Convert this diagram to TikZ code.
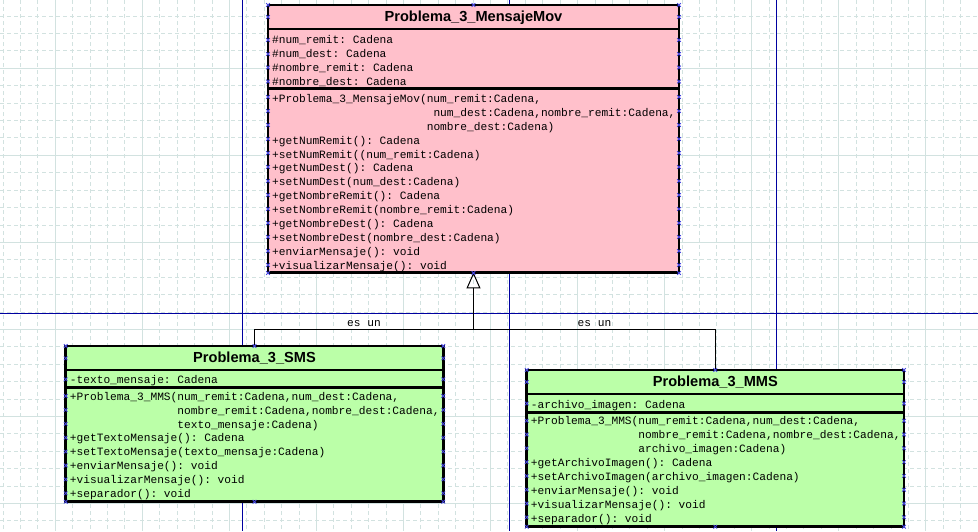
\documentclass[tikz,border=0pt]{standalone}
\usepackage{fontspec}
\setmainfont{Liberation Sans}
\setmonofont{Liberation Mono}
\usepackage{tikz}
\usetikzlibrary{arrows.meta,positioning}
\definecolor{msgpink}{RGB}{255,192,203}
\definecolor{msggreen}{RGB}{187,255,168}
\definecolor{gridgray}{RGB}{210,226,224}
\definecolor{pageblue}{RGB}{0,0,160}
\definecolor{handleblue}{RGB}{70,70,225}
\newcommand{\hmark}[2]{\draw[handle] (#1,#2) +(-1.8,-1.8) -- +(1.8,1.8) +(-1.8,1.8) -- +(1.8,-1.8);}
\newcommand{\ind}[1]{\hphantom{#1}}

\begin{document}
\begin{tikzpicture}[x=1pt, y=-1pt,
  classtitle/.style={draw, line width=2.6pt, inner sep=0pt, outer sep=0pt, minimum height=24pt,
    text height=10.6pt, text depth=1pt, font=\fontsize{14.6}{16}\selectfont\bfseries},
  classpart/.style={draw, line width=2.6pt, inner sep=0pt, outer sep=0pt},
  parttext/.style={inner sep=0pt, align=left,
    font=\fontsize{11.2}{13.9}\selectfont\ttfamily},
  isa/.style={-{Triangle[open, length=16pt, width=14pt]}, line width=1pt},
  esun/.style={anchor=base, yshift=3pt, inner sep=0pt, font=\fontsize{11.2}{13}\selectfont\ttfamily},
  minorgrid/.style={gridgray, line width=1pt, dash pattern=on 4pt off 3pt},
  majorgrid/.style={gridgray, line width=1pt},
  pageline/.style={pageblue, line width=1.4pt},
  handle/.style={handleblue, line width=0.8pt}]

\useasboundingbox (0,0) rectangle (978,531);
\fill[white] (0,0) rectangle (978,531);

% 1. Background grid
\foreach \i in {0,...,55} \draw[minorgrid] ({3.1+17.41*\i},0) -- ++(0,531);
\foreach \i in {0,...,29} \draw[minorgrid] (0,{16.1+17.41*\i}) -- ++(978,0);
\foreach \i in {0,...,10} \draw[majorgrid] ({55.3+87.05*\i},0) -- ++(0,531);
\foreach \i in {0,...,5} \draw[majorgrid] (0,{68.3+87.05*\i}) -- ++(978,0);

% 2. Page break lines
\draw[pageline] (242.3,0) -- (242.3,531);
\draw[pageline] (509.3,0) -- (509.3,531);
\draw[pageline] (776.7,0) -- (776.7,531);
\draw[pageline] (0,313.3) -- (978,313.3);

% 3. Superclass (text anchored on the baseline of its last line)
\node[classtitle, fill=msgpink, anchor=north west, minimum width=411pt] (mov-t) at (268,5) {Problema\_3\_MensajeMov};
\node[classpart, fill=msgpink, below=0pt of mov-t.south west, anchor=north west, minimum width=411pt, minimum height=59.7pt] (mov-a) {};
\node[classpart, fill=msgpink, below=0pt of mov-a.south west, anchor=north west, minimum width=411pt, minimum height=183.7pt] (mov-m) {};
\node[parttext, below right=56.4pt and 4pt of mov-a.north west, anchor=base west] (mov-atxt) {%
\#num\_remit: Cadena\\
\#num\_dest: Cadena\\
\#nombre\_remit: Cadena\\
\#nombre\_dest: Cadena};
\node[parttext, below right=180.5pt and 4pt of mov-m.north west, anchor=base west] (mov-mtxt) {%
+Problema\_3\_MensajeMov(num\_remit:Cadena,\\
\ind{xxxxxxxxxxxxxxxxxxxxxxxx}num\_dest:Cadena,nombre\_remit:Cadena,\\
\ind{xxxxxxxxxxxxxxxxxxxxxxx}nombre\_dest:Cadena)\\
+getNumRemit(): Cadena\\
+setNumRemit((num\_remit:Cadena)\\
+getNumDest(): Cadena\\
+setNumDest(num\_dest:Cadena)\\
+getNombreRemit(): Cadena\\
+setNombreRemit(nombre\_remit:Cadena)\\
+getNombreDest(): Cadena\\
+setNombreDest(nombre\_dest:Cadena)\\
+enviarMensaje(): void\\
+visualizarMensaje(): void};

% 4. Subclass SMS
\node[classtitle, fill=msggreen, anchor=north west, minimum width=377.6pt] (sms-t) at (65.7,346) {Problema\_3\_SMS};
\node[classpart, fill=msggreen, below=0pt of sms-t.south west, anchor=north west, minimum width=377.6pt, minimum height=17.3pt] (sms-a) {};
\node[classpart, fill=msggreen, below=0pt of sms-a.south west, anchor=north west, minimum width=377.6pt, minimum height=114.4pt] (sms-m) {};
\node[parttext, below right=13.3pt and 4pt of sms-a.north west, anchor=base west] (sms-atxt) {-texto\_mensaje: Cadena};
\node[parttext, below right=110.2pt and 4pt of sms-m.north west, anchor=base west] (sms-mtxt) {%
+Problema\_3\_MMS(num\_remit:Cadena,num\_dest:Cadena,\\
\ind{xxxxxxxxxxxxxxxx}nombre\_remit:Cadena,nombre\_dest:Cadena,\\
\ind{xxxxxxxxxxxxxxxx}texto\_mensaje:Cadena)\\
+getTextoMensaje(): Cadena\\
+setTextoMensaje(texto\_mensaje:Cadena)\\
+enviarMensaje(): void\\
+visualizarMensaje(): void\\
+separador(): void};

% 5. Subclass MMS
\node[classtitle, fill=msggreen, anchor=north west, minimum width=377.3pt] (mms-t) at (526.7,370) {Problema\_3\_MMS};
\node[classpart, fill=msggreen, below=0pt of mms-t.south west, anchor=north west, minimum width=377.3pt, minimum height=18.5pt] (mms-a) {};
\node[classpart, fill=msggreen, below=0pt of mms-a.south west, anchor=north west, minimum width=377.3pt, minimum height=114.2pt] (mms-m) {};
\node[parttext, below right=14.3pt and 4pt of mms-a.north west, anchor=base west] (mms-atxt) {-archivo\_imagen: Cadena};
\node[parttext, below right=109.7pt and 4pt of mms-m.north west, anchor=base west] (mms-mtxt) {%
+Problema\_3\_MMS(num\_remit:Cadena,num\_dest:Cadena,\\
\ind{xxxxxxxxxxxxxxxx}nombre\_remit:Cadena,nombre\_dest:Cadena,\\
\ind{xxxxxxxxxxxxxxxx}archivo\_imagen:Cadena)\\
+getArchivoImagen(): Cadena\\
+setArchivoImagen(archivo\_imagen:Cadena)\\
+enviarMensaje(): void\\
+visualizarMensaje(): void\\
+separador(): void};

% 6. Generalisation
\coordinate (busy) at (0,329);
\coordinate (bus) at (mov-m.south |- busy);
\draw[isa] (sms-t.north) |- node[esun, pos=.75] (sms-lbl) {es un} (bus) -- (mov-m.south);
\draw[line width=1pt] (mms-t.north) |- node[esun, pos=.75] (mms-lbl) {es un} (bus);

% 7. Selection handles
\foreach \x in {268,679} {
  \foreach \y in {5,17,40,54,67.5,81.5,273} {\hmark{\x}{\y}}
  \foreach \k in {0,...,12} {\hmark{\x}{97+14*\k}}
}
\hmark{473.5}{5} \hmark{473.5}{273}
\foreach \x in {65.7,443.3} {
  \foreach \y in {346,358.3,379.3,501.7} {\hmark{\x}{\y}}
  \foreach \k in {0,...,7} {\hmark{\x}{396+13.9*\k}}
}
\hmark{254.5}{346} \hmark{254.5}{501.7}
\foreach \x in {526.7,904} {
  \foreach \y in {370,382,403.5,526.7} {\hmark{\x}{\y}}
  \foreach \k in {0,...,7} {\hmark{\x}{420.7+13.8*\k}}
}
\hmark{715.3}{370} \hmark{715.3}{526.7}

\end{tikzpicture}
\end{document}
